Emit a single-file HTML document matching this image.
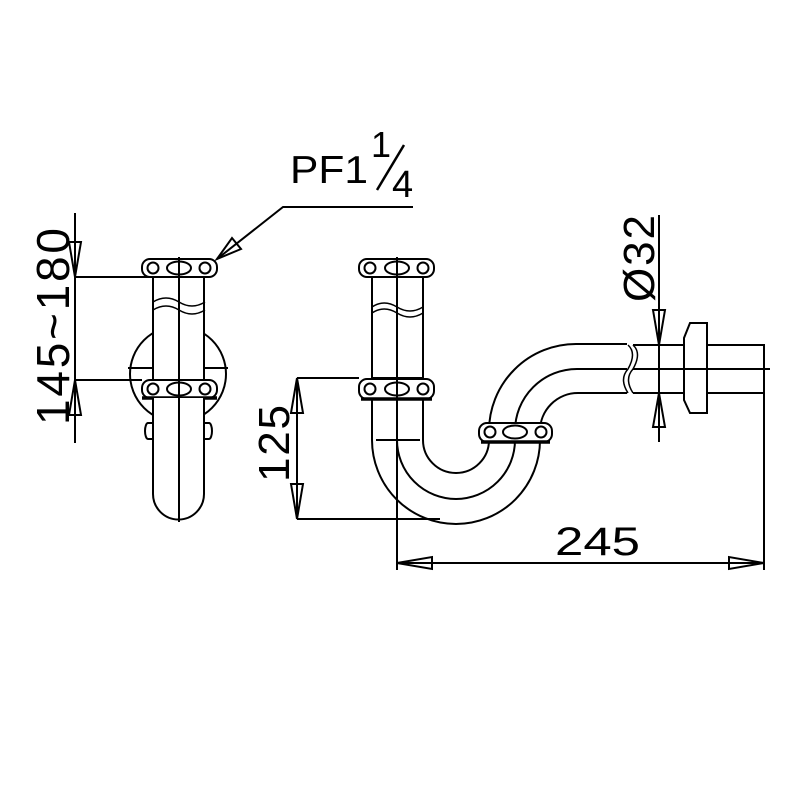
<!DOCTYPE html>
<html><head><style>body{margin:0;background:#fff}svg{display:block}</style></head><body>
<svg width="800" height="800" viewBox="0 0 800 800" xmlns="http://www.w3.org/2000/svg">
<g fill="none" stroke="#000" stroke-width="2">
<!-- LEFT VIEW -->
<circle cx="178" cy="374" r="48"/>
<rect x="153" y="277" width="51" height="103" fill="#fff"/>
<rect x="142" y="380" width="75" height="18" rx="8" fill="#fff"/>
<line x1="128" y1="368" x2="153" y2="368"/><line x1="204" y1="368" x2="228" y2="368"/>
<path d="M153 302 q13 -8 26 0 t26 0" stroke-width="1.5"/>
<path d="M153 310 q13 -8 26 0 t26 0" stroke-width="1.5"/>
<rect x="142" y="259" width="75" height="18" rx="8" fill="#fff"/>
<circle cx="153" cy="268" r="5.5"/><ellipse cx="179" cy="268" rx="12" ry="6.5"/><circle cx="205" cy="268" r="5.5"/>
<circle cx="153" cy="389" r="5.5"/><ellipse cx="179" cy="389" rx="12" ry="6.5"/><circle cx="205" cy="389" r="5.5"/>
<line x1="142" y1="398" x2="217" y2="398" stroke-width="3.5"/>
<path d="M153 398 V494 A25.5 25.5 0 0 0 204 494 V398" fill="#fff"/>
<path d="M153 423 h-5 a3 8 0 0 0 0 16 h5"/><path d="M204 423 h5 a3 8 0 0 1 0 16 h-5"/>
<line x1="179" y1="257" x2="179" y2="522"/>
<!-- dims left -->
<line x1="75" y1="213" x2="75" y2="443"/>
<line x1="75" y1="277" x2="204" y2="277"/>
<line x1="75" y1="380" x2="142" y2="380"/>
<path d="M69 242 L81 242 L75 277 Z"/><path d="M69 415 L81 415 L75 380 Z"/>
<!-- PF leader -->
<polyline points="217,259 283,207 413,207"/>
<path d="M217 259 L232 238 L241 249 Z"/>
<!-- MIDDLE VIEW -->
<path d="M372 277 V440 A84 84 0 0 0 540 440 V431 A38 38 0 0 1 578 393 H633"/>
<path d="M397 440 A59 59 0 0 0 515 440 V431 A62 62 0 0 1 577 369 H770"/>
<path d="M423 277 V440 A33 33 0 0 0 489 440 V431 A87 87 0 0 1 576 344 H633"/>
<line x1="376" y1="440" x2="420" y2="440"/>
<rect x="372" y="277" width="51" height="101" fill="#fff"/>
<path d="M372 307 q12 -8 25 0 t26 0" stroke-width="1.5"/>
<path d="M372 313 q12 -8 25 0 t26 0" stroke-width="1.5"/>
<rect x="359" y="259" width="75" height="18" rx="8" fill="#fff"/>
<circle cx="370" cy="268" r="5.5"/><ellipse cx="397" cy="268" rx="12" ry="6.5"/><circle cx="423" cy="268" r="5.5"/>
<rect x="359" y="379" width="75" height="20" rx="8" fill="#fff"/>
<circle cx="370" cy="389" r="5.5"/><ellipse cx="397" cy="389" rx="12" ry="6.5"/><circle cx="423" cy="389" r="5.5"/>
<line x1="361" y1="399" x2="432" y2="399" stroke-width="3.5"/>
<rect x="479" y="423" width="73" height="19" rx="8" fill="#fff"/>
<circle cx="490" cy="432" r="5.5"/><ellipse cx="515" cy="432" rx="12" ry="6.5"/><circle cx="541" cy="432" r="5.5"/>
<line x1="481" y1="442" x2="550" y2="442" stroke-width="3.5"/>
<line x1="397" y1="257" x2="397" y2="570"/>
<!-- break -->
<rect x="627" y="340" width="8" height="58" fill="#fff" stroke="none"/>
<path d="M628 345 q9 8 0 24 q-9 10 0 24" stroke-width="1.5"/>
<path d="M633 345 q9 8 0 24 q-9 10 0 24" stroke-width="1.5"/>
<path d="M633 345 H684 M633 393 H684 M633 369 H684"/>
<path d="M690 323 H707 V413 H690 L684 400 V338 Z"/>
<path d="M707 345 H764 V570 M707 393 H764"/>
<!-- Ø32 dim -->
<line x1="659" y1="215" x2="659" y2="442"/>
<path d="M653 310 L665 310 L659 345 Z"/><path d="M653 427 L665 427 L659 393 Z"/>
<!-- 125 dim -->
<line x1="297" y1="378" x2="297" y2="519"/>
<line x1="297" y1="378" x2="359" y2="378"/>
<line x1="297" y1="519" x2="440" y2="519"/>
<path d="M291 413 L303 413 L297 378 Z"/><path d="M291 484 L303 484 L297 519 Z"/>
<!-- 245 dim -->
<line x1="397" y1="563" x2="764" y2="563"/>
<path d="M432 557 L432 569 L397 563 Z"/><path d="M729 557 L729 569 L764 563 Z"/>
</g>
<g font-family="Liberation Sans, sans-serif" fill="#000">
<text x="290" y="183" font-size="39" textLength="78" lengthAdjust="spacingAndGlyphs">PF1</text>
<text x="371" y="157" font-size="36">1</text>
<line x1="377" y1="190" x2="404" y2="145" stroke="#000" stroke-width="2.5"/>
<text x="392" y="197" font-size="38">4</text>
<text x="555" y="555" font-size="40" textLength="85" lengthAdjust="spacingAndGlyphs">245</text>
<text transform="translate(69,425) rotate(-90)" font-size="46" textLength="197" lengthAdjust="spacing">145~180</text>
<text transform="translate(289,482) rotate(-90)" font-size="44" textLength="77" lengthAdjust="spacing">125</text>
<text transform="translate(654,302) rotate(-90)" font-size="44" textLength="87" lengthAdjust="spacing">Ø32</text>
</g>
</svg>
</body></html>
